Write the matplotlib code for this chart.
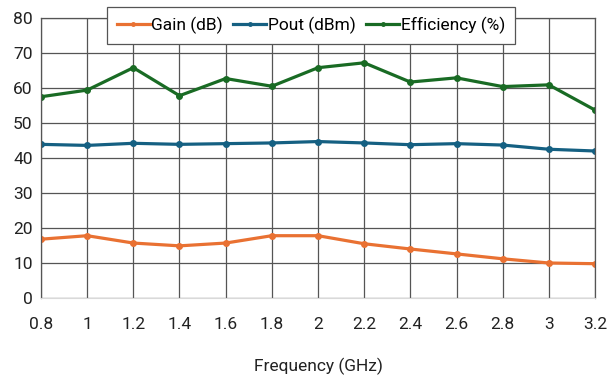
import matplotlib.pyplot as plt

plt.rcParams['font.family'] = ['Roboto', 'DejaVu Sans']

# Data
freq = [0.8, 1.0, 1.2, 1.4, 1.6, 1.8, 2.0, 2.2, 2.4, 2.6, 2.8, 3.0, 3.2]
freq_labels = ['0.8', '1', '1.2', '1.4', '1.6', '1.8', '2', '2.2', '2.4', '2.6', '2.8', '3', '3.2']
gain_db = [16.8, 17.8, 15.7, 14.9, 15.7, 17.8, 17.8, 15.5, 14.0, 12.6, 11.2, 10.0, 9.8]
pout_dbm = [43.9, 43.6, 44.2, 43.9, 44.1, 44.3, 44.7, 44.3, 43.8, 44.1, 43.7, 42.5, 42.0]
efficiency = [57.5, 59.4, 65.8, 57.8, 62.7, 60.5, 65.8, 67.2, 61.7, 62.9, 60.4, 60.9, 53.7]

fig = plt.figure(figsize=(6.08, 3.79), dpi=100)
ax = fig.add_axes([41 / 608, 1 - 298 / 379, 554 / 608, 280 / 379])

ax.plot(freq, gain_db, color='#E97132', lw=2.3, marker='o', ms=4, label='Gain (dB)')
ax.plot(freq, pout_dbm, color='#156082', lw=2.3, marker='o', ms=4, label='Pout (dBm)')
ax.plot(freq, efficiency, color='#196B24', lw=2.3, marker='o', ms=4, label='Efficiency (%)')

ax.set_xlim(0.8, 3.2)
ax.set_ylim(0, 80)
ax.set_xticks(freq)
ax.set_xticklabels(freq_labels)
ax.set_yticks(range(0, 81, 10))

# grid and frame
ax.grid(True, color='#555555', lw=0.9)
ax.set_axisbelow(True)
for side in ['top', 'right', 'left']:
    ax.spines[side].set_color('#555555')
    ax.spines[side].set_linewidth(0.9)
ax.spines['bottom'].set_color('#d9d9d9')
ax.tick_params(length=0, labelsize=12.5, colors='#222222', pad=6)
ax.tick_params(axis='x', pad=14)

ax.set_xlabel('Frequency (GHz)', fontsize=12.5, color='#222222', labelpad=18)

leg = fig.legend(loc='center', bbox_to_anchor=(311 / 608, 1 - 25.5 / 379), ncol=3,
                 fontsize=12.5, frameon=True, fancybox=False, handlelength=1.9,
                 handletextpad=0.1, columnspacing=0.6, borderpad=0.55)
leg.get_frame().set_edgecolor('#555555')
leg.get_frame().set_linewidth(0.9)
leg.get_frame().set_alpha(1)
for h in leg.legend_handles:
    h.set_markersize(2.5)

fig.savefig('out.png', dpi=100)
